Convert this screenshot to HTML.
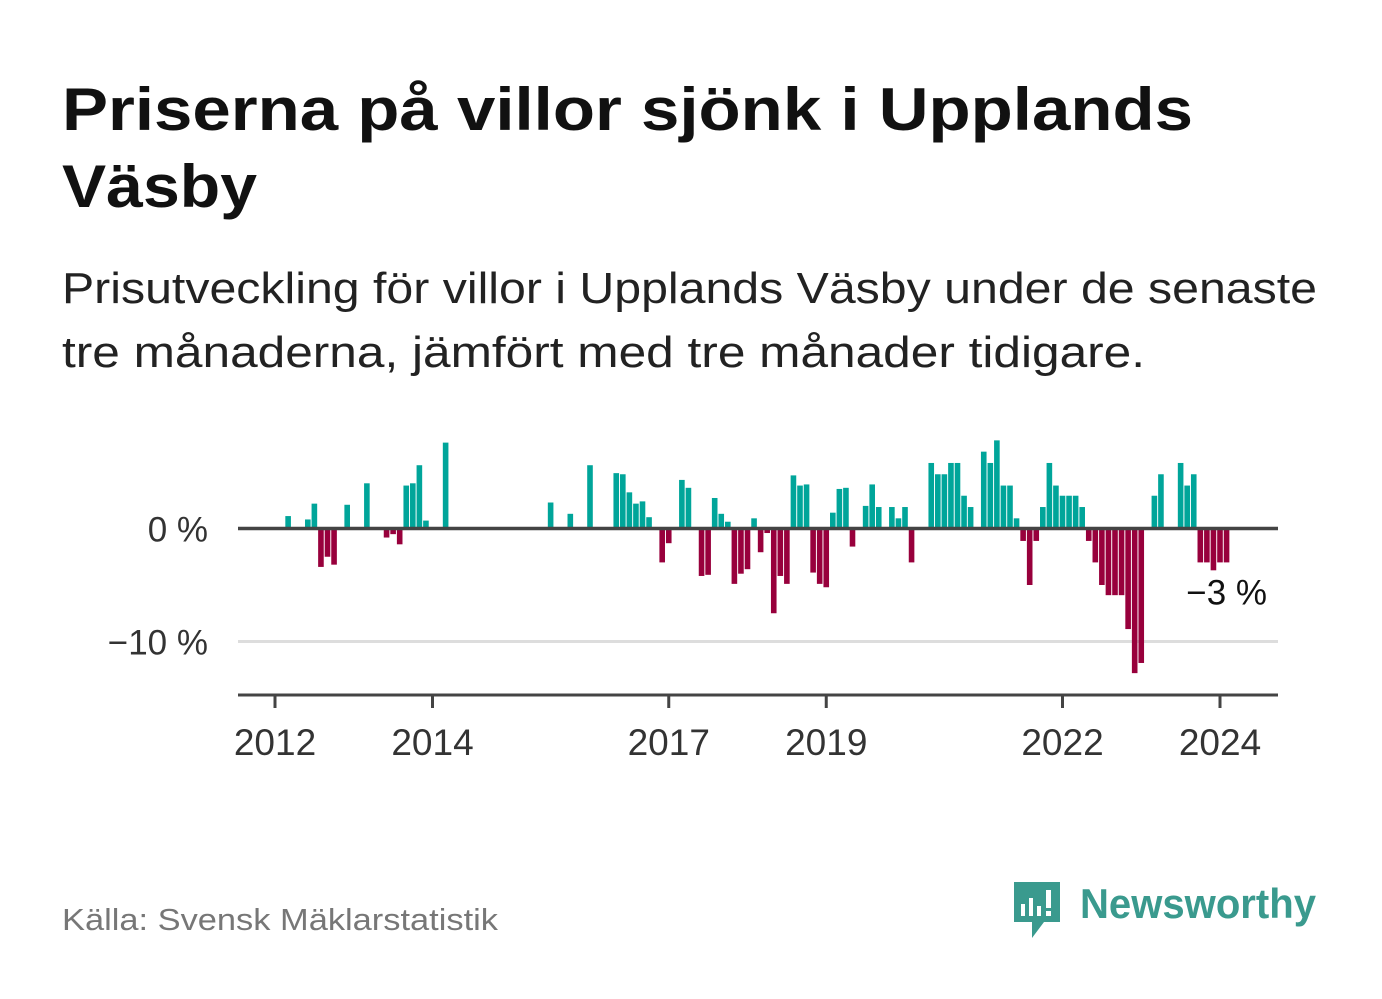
<!DOCTYPE html>
<html><head><meta charset="utf-8"><style>
html,body{margin:0;padding:0;background:#fff;}
svg{display:block;font-family:"Liberation Sans",sans-serif;}
</style></head><body>
<svg width="1382" height="999" viewBox="0 0 1382 999">
<text x="62" y="130" font-size="60" font-weight="bold" fill="#111" textLength="1131" lengthAdjust="spacingAndGlyphs">Priserna på villor sjönk i Upplands</text>
<text x="62" y="207" font-size="60" font-weight="bold" fill="#111" textLength="195" lengthAdjust="spacingAndGlyphs">Väsby</text>
<text x="62" y="303" font-size="44" fill="#222" textLength="1255" lengthAdjust="spacingAndGlyphs">Prisutveckling för villor i Upplands Väsby under de senaste</text>
<text x="62" y="367" font-size="44" fill="#222" textLength="1083" lengthAdjust="spacingAndGlyphs">tre månaderna, jämfört med tre månader tidigare.</text>
<g id="plot"></g>
<text x="62" y="930" font-size="31" fill="#777" textLength="436" lengthAdjust="spacingAndGlyphs">Källa: Svensk Mäklarstatistik</text>
<g>
<path d="M1014 882 h46 v40 h-16 l-12 16 v-16 h-18 z" fill="#3a9a8e"/>
<rect x="1021" y="904" width="4" height="12" fill="#fff"/><rect x="1029" y="898" width="4" height="18" fill="#fff"/><rect x="1037" y="906" width="4" height="10" fill="#fff"/><rect x="1046" y="890" width="5" height="18" fill="#fff"/><rect x="1046" y="911" width="5" height="5" fill="#fff"/>
<text x="1080" y="918" font-size="42" font-weight="bold" fill="#3a9a8e" textLength="236" lengthAdjust="spacingAndGlyphs">Newsworthy</text>
</g>
</svg>
<script>
const months=["2012-03","2012-06","2012-07","2012-08","2012-09","2012-10","2012-12","2013-03","2013-06","2013-07","2013-08","2013-09","2013-10","2013-11","2013-12","2014-03","2015-07","2015-10","2016-01","2016-05","2016-06","2016-07","2016-08","2016-09","2016-10","2016-12","2017-01","2017-03","2017-04","2017-06","2017-07","2017-08","2017-09","2017-10","2017-11","2017-12","2018-01","2018-02","2018-03","2018-04","2018-05","2018-06","2018-07","2018-08","2018-09","2018-10","2018-11","2018-12","2019-01","2019-02","2019-03","2019-04","2019-05","2019-07","2019-08","2019-09","2019-11","2019-12","2020-01","2020-02","2020-05","2020-06","2020-07","2020-08","2020-09","2020-10","2020-11","2021-01","2021-02","2021-03","2021-04","2021-05","2021-06","2021-07","2021-08","2021-09","2021-10","2021-11","2021-12","2022-01","2022-02","2022-03","2022-04","2022-05","2022-06","2022-07","2022-08","2022-09","2022-10","2022-11","2022-12","2023-01","2023-03","2023-04","2023-07","2023-08","2023-09","2023-10","2023-11","2023-12","2024-01","2024-02"];
const values=[1.1,0.8,2.2,-3.4,-2.5,-3.2,2.1,4.0,-0.8,-0.5,-1.4,3.8,4.0,5.6,0.7,7.6,2.3,1.3,5.6,4.9,4.8,3.2,2.2,2.4,1.0,-3.0,-1.3,4.3,3.6,-4.2,-4.1,2.7,1.3,0.6,-4.9,-4.0,-3.6,0.9,-2.1,-0.4,-7.5,-4.2,-4.9,4.7,3.8,3.9,-3.9,-4.9,-5.2,1.4,3.5,3.6,-1.6,2.0,3.9,1.9,1.9,0.9,1.9,-3.0,5.8,4.8,4.8,5.8,5.8,2.9,1.9,6.8,5.8,7.8,3.8,3.8,0.9,-1.1,-5.0,-1.1,1.9,5.8,3.8,2.9,2.9,2.9,1.9,-1.1,-3.0,-5.0,-5.9,-5.9,-5.9,-8.9,-12.8,-11.9,2.9,4.8,5.8,3.8,4.8,-3.0,-3.0,-3.7,-3.0,-3.0];
const yTicks=[0,-10];
const yTickLabels=["0 %","\u221210 %"];
const xTicks=[2012,2014,2017,2019,2022,2024];
const lastLabel="\u22123 %";
const NS="http://www.w3.org/2000/svg";
const g=document.getElementById('plot');
const X0=275,PXM=6.5625,Y0=528.5,PXP=11.3,L=238,R=1278;
function xm(s){const p=s.split('-');return X0+((+p[0]-2012)*12+(+p[1]-1))*PXM;}
function xy(yr){return X0+(yr-2012)*12*PXM;}
function y(v){return Y0-v*PXP;}
function el(t,a){const e=document.createElementNS(NS,t);for(const k in a)e.setAttribute(k,a[k]);g.appendChild(e);return e;}
yTicks.forEach((v,i)=>{
 if(v!==0){const ln=el('line',{x1:L,x2:R,y1:y(v),y2:y(v),stroke:'#ddd','stroke-width':3});
 
 }
 const t=el('text',{x:208,y:y(v)+13,'font-size':35,fill:'#333','text-anchor':'end'});
 
 
 t.textContent=yTickLabels[i];
});
months.forEach((m,i)=>{
 const v=values[i];const c=xm(m);
 const r=el('rect',{x:c-2.8,width:5.6,y:Math.min(y(v),Y0),height:Math.abs(y(v)-Y0),fill:v>=0?'#00a59a':'#98003c'});
 
 
});
const z=el('line',{x1:L,x2:R,y1:Y0,y2:Y0,stroke:'#444','stroke-width':3.5});


const ax=el('line',{x1:L,x2:R,y1:695,y2:695,stroke:'#444','stroke-width':3});


xTicks.forEach(yr=>{
 const tk=el('line',{x1:xy(yr),x2:xy(yr),y1:695,y2:708,stroke:'#444','stroke-width':3});
 
 
 const t=el('text',{x:xy(yr),y:755,'font-size':37,fill:'#333','text-anchor':'middle'});
 
 
 t.textContent=yr;
});
const lv=values[values.length-1];
const lt=el('text',{x:1267,y:y(lv)+42,'font-size':35,fill:'#111','text-anchor':'end'});


lt.textContent=lastLabel;
</script>
</body></html>
